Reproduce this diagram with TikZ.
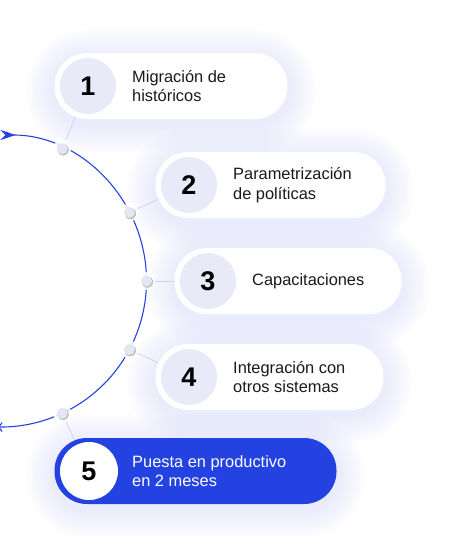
\documentclass[tikz,border=0pt]{standalone}
\usepackage{fontspec}
\setmainfont{Liberation Sans}
\usetikzlibrary{arrows.meta}
\definecolor{blueA}{RGB}{36,66,226}
\definecolor{lav}{RGB}{232,234,248}
\definecolor{glowc}{RGB}{200,206,245}
\definecolor{connc}{RGB}{208,212,236}
\definecolor{txt}{RGB}{25,25,30}
\definecolor{markc}{RGB}{228,230,243}
\pgfdeclarelayer{glowlayer}
\pgfdeclarelayer{bg}
\pgfsetlayers{glowlayer,bg,main}
\begin{document}
\begin{tikzpicture}[x=1pt,y=-1pt,
  pill/.style={fill=white, draw=white, line width=1pt, rounded corners=32pt, inner sep=0pt, minimum height=65pt},
  numc/.style={circle, fill=lav, minimum size=56pt, inner sep=0pt, font=\fontsize{27}{27}\selectfont\bfseries, text=black},
  lbl/.style={anchor=west, align=left, inner sep=0pt, font=\fontsize{16.4}{19.5}\selectfont, text=txt},
  conn/.style={draw=connc, line width=0.8pt},
  marker/.style={circle, fill=markc, minimum size=11pt, inner sep=0pt},
  halo/.style={circle, fill=white, opacity=0.85, minimum size=18pt, inner sep=0pt},
]
\useasboundingbox (0,0) rectangle (455,558);

% pills
\node[pill, minimum width=232pt] (p1) at (171,86) {};
\node[pill, minimum width=229pt] (p2) at (270.5,185) {};
\node[pill, minimum width=226pt] (p3) at (288,281) {};
\node[pill, minimum width=227pt] (p4) at (269.5,377) {};
\node[pill, minimum width=281pt, fill=blueA, draw=blueA] (p5) at (195.5,471) {};

\node[numc] (c1) at (88,86) {1};
\node[numc] (c2) at (189,185) {2};
\node[numc] (c3) at (208,281) {3};
\node[numc] (c4) at (189,377) {4};
\node[numc, fill=white, minimum size=58pt] (c5) at (89,471) {5};

\node[lbl] (t1) at (132,86) {Migración de\\históricos};
\node[lbl] (t2) at (233,185) {Parametrización\\de políticas};
\node[lbl] (t3) at (252,281) {Capacitaciones};
\node[lbl] (t4) at (233,377) {Integración con\\otros sistemas};
\node[lbl, text=white] (t5) at (132,471) {Puesta en productivo\\en 2 meses};

% glows
\begin{pgfonlayer}{glowlayer}
\foreach \p in {p1,p2,p3,p4,p5}{
  \foreach \k in {1,...,12}{
    \pgfmathsetmacro\dd{\k*2.4}
    \pgfmathsetmacro\rr{32+\k*2.4}
    \fill[glowc, opacity=0.038, rounded corners=\rr pt]
      ([shift={(-\dd,-\dd+5)}]\p.north west) rectangle ([shift={(\dd,\dd+5)}]\p.south east);
  }
}
\end{pgfonlayer}

% arc
\coordinate (ctr) at (0.5,281);
\coordinate (as) at ([shift={(-90:146)}]ctr);
\begin{pgfonlayer}{bg}
\draw[blueA, line width=1.1pt, {Stealth[reversed,length=15pt,width=10pt,inset=5pt]}-{Straight Barb[length=3.5pt,width=9pt]}]
  (as) arc[start angle=-90, end angle=91, radius=146];
\end{pgfonlayer}

% markers
\foreach \i/\a in {1/-65,2/-28,3/0,4/28,5/65}{
  \coordinate (h\i) at ([shift={(\a:146)}]ctr);
}
\foreach \i in {1,...,5}{
  \node[halo] at (h\i) {};
  \fill[black!25] ([shift={(0.9,1)}]h\i) circle (5.7pt);
  \node[marker] (m\i) at (h\i) {};
}

% connectors
\begin{pgfonlayer}{bg}
\draw[conn] (m1) -- (c1.center);
\draw[conn] (m2) -- (c2.center);
\draw[conn] (m3) -- (c3.center);
\draw[conn] (m4) -- (c4.center);
\draw[conn] (m5) -- (c5.center);
\end{pgfonlayer}
\end{tikzpicture}
\end{document}
